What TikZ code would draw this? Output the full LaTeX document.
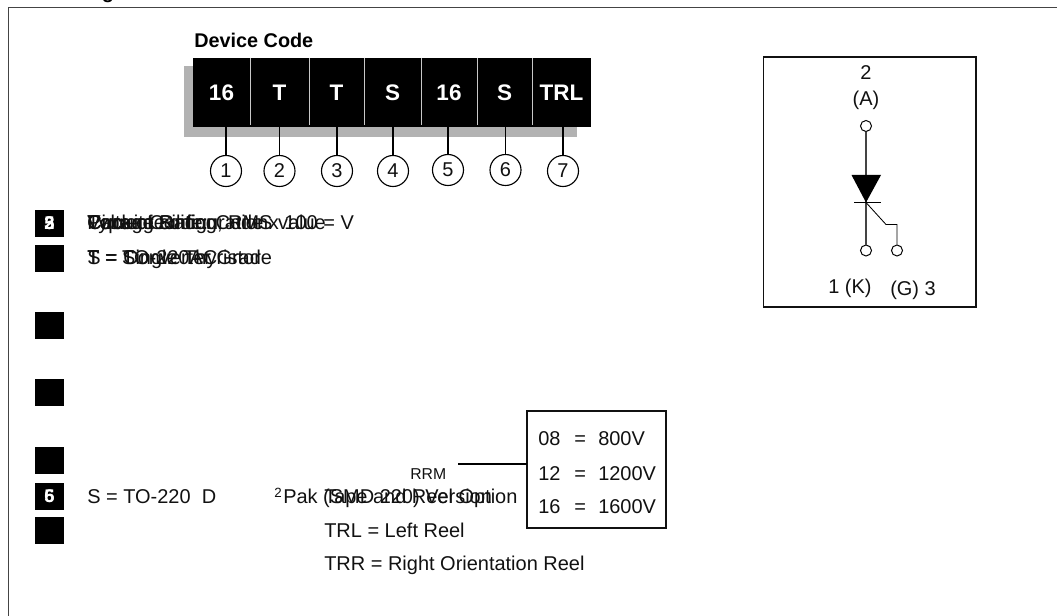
\documentclass[tikz,border=0pt]{standalone}
\usepackage{xcolor}
\usepackage{fontspec}
\setmainfont{Liberation Sans}
\usetikzlibrary{calc}
\definecolor{golgeGri}{HTML}{B2B2B2}
\definecolor{ayracGri}{HTML}{C8C8C8}
\definecolor{cerceveGri}{HTML}{444444}
\definecolor{koyuGri}{HTML}{111111}
\tikzset{
  yazi/.style={anchor=base west,inner sep=0pt,text=koyuGri,font=\fontsize{14.2}{16}\selectfont},
  kodHucre/.style={fill=black,text=white,inner sep=0pt,minimum height=1.725cm,font=\fontsize{16}{18}\selectfont\bfseries},
  numaraDaire/.style={circle,draw=black,line width=0.8pt,fill=white,inner sep=0pt,minimum size=0.775cm,text=koyuGri,font=\fontsize{14.2}{16}\selectfont},
  siyahKare/.style={fill=black,inner sep=0pt,minimum width=0.725cm,minimum height=0.675cm},
  kareNo/.style={text=white,inner sep=0pt,font=\fontsize{13}{15}\selectfont\bfseries},
  uc/.style={circle,draw=black,fill=white,line width=0.7pt,inner sep=0pt,minimum size=0.275cm},
}
\begin{document}
\begin{tikzpicture}[x=0.025cm,y=-0.025cm]
\useasboundingbox (0,0) rectangle (1057,616);
\draw[cerceveGri,line width=1.1pt] (8.5,616)--(8.5,7.5)--(1057,7.5);
\node[anchor=base,inner sep=0pt,font=\fontsize{14.2}{16}\selectfont\bfseries] (baslikG) at (108,-1) {g};
% device code
\node[anchor=base west,inner sep=0pt,font=\fontsize{14.1}{16}\selectfont\bfseries] (kodBaslik) at (194,48) {Device Code};
\fill[golgeGri] (184,66) rectangle (577,137);
\node[kodHucre,minimum width=1.425cm] (h1) at (221.5,92.5) {16};
\node[kodHucre,minimum width=1.475cm] (h2) at (279.5,92.5) {T};
\node[kodHucre,minimum width=1.375cm] (h3) at (336.5,92.5) {T};
\node[kodHucre,minimum width=1.425cm] (h4) at (392.5,92.5) {S};
\node[kodHucre,minimum width=1.4cm] (h5) at (449,92.5) {16};
\node[kodHucre,minimum width=1.375cm] (h6) at (504.5,92.5) {S};
\node[kodHucre,minimum width=1.475cm] (h7) at (561.5,92.5) {TRL};
\draw[ayracGri,line width=0.7pt] (h1.north east)--++(0,67);
\draw[ayracGri,line width=0.7pt] (h2.north east)--++(0,67);
\draw[ayracGri,line width=0.7pt] (h3.north east)--++(0,67);
\draw[ayracGri,line width=0.7pt] (h4.north east)--++(0,67);
\draw[ayracGri,line width=0.7pt] (h5.north east)--++(0,67);
\draw[ayracGri,line width=0.7pt] (h6.north east)--++(0,67);
\node[numaraDaire] (n1) at (226,171) {1};
\node[numaraDaire] (n2) at (279.5,171) {2};
\node[numaraDaire] (n3) at (337,171) {3};
\node[numaraDaire] (n4) at (393,171) {4};
\node[numaraDaire] (n5) at (448,170) {5};
\node[numaraDaire] (n6) at (505.5,170) {6};
\node[numaraDaire] (n7) at (563,171) {7};
\draw[line width=0.9pt] (n1.north)--(n1.north |- h1.south);
\draw[line width=0.9pt] (n2.north)--(n2.north |- h2.south);
\draw[line width=0.9pt] (n3.north)--(n3.north |- h3.south);
\draw[line width=0.9pt] (n4.north)--(n4.north |- h4.south);
\draw[line width=0.9pt] (n5.north)--(n5.north |- h5.south);
\draw[line width=0.9pt] (n6.north)--(n6.north |- h6.south);
\draw[line width=0.9pt] (n7.north)--(n7.north |- h7.south);
% legend squares
\node[siyahKare] (k1) at (49.5,223.5) {};
\node[siyahKare] (k2) at (49.5,258.5) {};
\node[siyahKare] (k3) at (49.5,325.5) {};
\node[siyahKare] (k4) at (49.5,392.5) {};
\node[siyahKare] (k5) at (49.5,460.5) {};
\node[siyahKare] (k6) at (49.5,496.5) {};
\node[siyahKare] (k7) at (49.5,530.5) {};
\node[kareNo] (k1a) at (k1) {2};
\node[kareNo] (k1b) at (k1) {3};
\node[kareNo] (k1c) at (k1) {5};
\node[kareNo] (k6a) at (k6) {5};
\node[kareNo] (k6b) at (k6) {6};
% legend texts
\node[yazi] (t1) at (87,230) {Current Rating, RMS value};
\node[yazi] (t2) at (87,230) {Circuit Configuration};
\node[yazi] (t3) at (87,230) {Package};
\node[yazi] (t4) at (87,230) {Type of Silicon};
\node[yazi] (t5) at (87,230) {Voltage code: Code x 100 = V};
\node[yazi] (s1) at (87,264) {T = Single Thyristor};
\node[yazi] (s2) at (87,264) {T = TO-220AC};
\node[yazi] (s3) at (87,264) {S = Converter Grade};
\node[yazi] (p1) at (87,503) {S = TO-220\ \ D};
\node[yazi,font=\fontsize{9.5}{11}\selectfont] (p2) at (274,497) {2};
\node[yazi] (p3) at (283,503) {Pak (SMD 220) Version};
\node[yazi] (r1) at (324,503) {Tape and Reel Option};
\node[yazi] (r2) at (324,537) {TRL = Left Reel};
\node[yazi] (r3) at (324,570) {TRR = Right Orientation Reel};
\node[yazi,font=\fontsize{11.2}{13}\selectfont] (rrm) at (410,479) {RRM};
% voltage box
\draw[koyuGri,line width=0.9pt] (527,411) rectangle (666,528);
\coordinate (kutuSol) at (527,464);
\coordinate (kutuHat) at (458,464);
\draw[black,line width=0.9pt] (kutuHat)--(kutuSol);
\node[yazi] (v1a) at (538,445) {08}; \node[yazi] (v1b) at (574,445) {=}; \node[yazi] (v1c) at (598,445) {800V};
\node[yazi] (v2a) at (538,480) {12}; \node[yazi] (v2b) at (574,480) {=}; \node[yazi] (v2c) at (598,480) {1200V};
\node[yazi] (v3a) at (538,513) {16}; \node[yazi] (v3b) at (574,513) {=}; \node[yazi] (v3c) at (598,513) {1600V};
% thyristor symbol
\draw[koyuGri,line width=0.9pt] (763.5,57) rectangle (976,307);
\node[yazi,anchor=base] (p2n) at (866,80) {2};
\node[yazi,anchor=base] (pA) at (866,106) {(A)};
\node[uc] (anot) at (866,126) {};
\node[uc] (katot) at (866,250.5) {};
\node[uc] (kapi) at (897,250.5) {};
\coordinate (tepe) at (866,202.5);
\draw[cerceveGri,line width=0.9pt] (anot)--(tepe)--(katot);
\fill[black] (851.5,175)--(881,175)--(tepe)--cycle;
\draw[black,line width=0.6pt] (854,202.5)--(880.5,202.5);
\draw[black,line width=0.6pt] (tepe)--(886,224.5)--(897,224.5)--(kapi);
\node[yazi] (pK) at (828,293) {1 (K)};
\node[yazi] (pG) at (890,295) {(G) 3};
\end{tikzpicture}
\end{document}
